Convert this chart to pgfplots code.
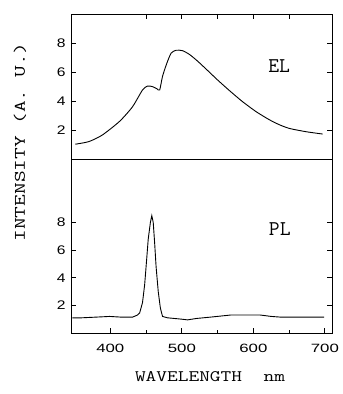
\documentclass[border=0pt]{standalone}
\usepackage{pgfplots}
\pgfplotsset{compat=1.18}
\usepackage{graphicx}
\usepackage{fontspec}
\newfontfamily\numfont{Liberation Sans}
\begin{document}
\begin{tikzpicture}
\pgfplotsset{
  every axis/.append style={
    scale only axis, width=261pt, xmin=345, xmax=710, ymin=0,
    /pgf/number format/assume math mode=true,
    tick align=inside, axis line style={line width=0.9pt},
    major tick length=5pt, minor tick length=3pt,
    every tick/.style={black, line width=0.8pt},
    ytick={2,4,6,8},
    yticklabel={\numfont\fontsize{12.5}{12.5}\selectfont\scalebox{1.25}[1]{\pgfmathprintnumber{\tick}}},
    yticklabel style={xshift=-2pt},
    ytick pos=both,
  },
}
\begin{axis}[name=bot, at={(0pt,0pt)}, anchor=south west, height=174pt, ymax=12.6,
  xtick={400,500,600,700}, minor xtick={450,550,650}, xtick pos=left,
  xticklabel={\numfont\fontsize{12}{12}\selectfont\scalebox{1.4}[1]{\pgfmathprintnumber{\tick}}},
  xticklabel style={yshift=-8pt}]
\addplot[black, line width=0.9pt] coordinates {
(347,1.1) (360,1.1) (380,1.15) (399,1.2) (415,1.15) (431,1.15) (438,1.3) (441,1.45)
(445,2.2) (448,3.5) (450,4.8) (453,6.8) (456,8.0) (458,8.5) (460,8.0) (462,6.5)
(464,4.8) (467,3.0) (470,1.8) (473,1.2) (480,1.1) (490,1.05) (500,1.0) (508,0.95)
(520,1.05) (540,1.15) (568,1.3) (590,1.3) (610,1.3) (625,1.2) (638,1.15) (660,1.15)
(680,1.15) (699,1.15)};
\node[font=\ttfamily\fontsize{21}{21}\selectfont] at (axis cs:637,7.5) {PL};
\end{axis}
\begin{axis}[name=top, at={(0pt,174pt)}, anchor=south west, height=145pt, ymax=10,
  xtick={450,500,550,600,650}, xticklabels={}, xtick pos=right]
\addplot[black, line width=0.9pt, smooth, tension=0.4] coordinates {
(351,1.02) (370,1.2) (389,1.66) (413,2.6) (431,3.6) (445,4.76) (452,5.03) (459,4.99)
(465,4.85) (469,4.76) (473,5.7) (479,6.6) (485,7.3) (492,7.5) (501,7.47) (511,7.2)
(522,6.75) (534,6.2) (550,5.45) (567,4.7) (585,3.95) (604,3.26) (623,2.69) (637,2.35)
(651,2.1) (674,1.88) (697,1.72)};
\node[font=\ttfamily\fontsize{21}{21}\selectfont] at (axis cs:636,6.4) {EL};
\end{axis}
\node[rotate=90, font=\ttfamily\fontsize{16}{16}\selectfont] at (-51pt,191pt) {\scalebox{1.42}[1]{INTENSITY (A. U.)}};
\node[font=\ttfamily\fontsize{16}{16}\selectfont] at (139pt,-44pt) {\scalebox{1.3}[1]{WAVELENGTH\ \ nm}};
\path ([shift={(-71pt,-61pt)}]bot.south west) rectangle ([shift={(10pt,14pt)}]top.north east);
\end{tikzpicture}
\end{document}
